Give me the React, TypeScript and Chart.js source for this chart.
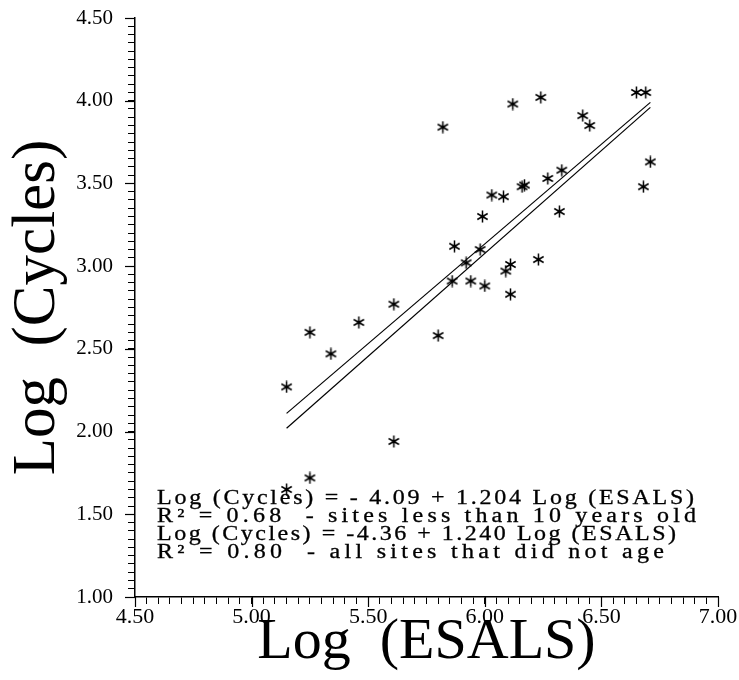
import React, { useEffect, useRef } from "react";
import { Chart, registerables } from "chart.js";

Chart.register(...registerables);

// Log(ESALS) values of the sites
const esals = [
  5.15, 5.25, 5.34, 5.46, 5.61, 5.80, 5.61, 5.25, 5.15, 5.82,
  6.12, 6.24, 6.65, 6.69, 6.42, 6.45, 6.71, 6.68, 6.33, 6.27,
  6.16, 6.17, 6.03, 6.08, 5.99, 6.32, 5.87, 5.98, 5.92, 5.86,
  5.94, 6.00, 6.11, 6.09, 6.23, 6.11,
];
// Log(Cycles) values of the sites
const cycles = [
  2.27, 2.60, 2.47, 2.66, 2.77, 2.58, 1.94, 1.72, 1.65, 3.84,
  3.98, 4.02, 4.05, 4.05, 3.91, 3.85, 3.63, 3.48, 3.58, 3.53,
  3.48, 3.49, 3.43, 3.42, 3.30, 3.33, 3.12, 3.10, 3.02, 2.91,
  2.91, 2.88, 3.01, 2.97, 3.04, 2.83,
];

// regression line end points
const fitX = [5.15, 6.71];
const fit1Y = [2.11, 3.99]; // sites less than 10 years old
const fit2Y = [2.02, 3.96]; // all sites that did not age

const xTickLabels = ["4.50", "5.00", "5.50", "6.00", "6.50", "7.00"];
const yTickLabels = ["1.00", "1.50", "2.00", "2.50", "3.00", "3.50", "4.00", "4.50"];

const xTitle = "Log  (ESALS)";
const yTitle = "Log  (Cycles)";

const annotationLines = [
  "Log (Cycles) = - 4.09 + 1.204 Log (ESALS)",
  "R² = 0.68  - sites less than 10 years old",
  "Log (Cycles) = -4.36 + 1.240 Log (ESALS)",
  "R² = 0.80  - all sites that did not age",
];
// rendered width of each annotation line, pixels
const annotationWidths = [537, 539, 519, 507];

function makeStar(size: number, lw: number): HTMLCanvasElement {
  const c = document.createElement("canvas");
  c.width = size;
  c.height = size;
  const g = c.getContext("2d")!;
  g.strokeStyle = "#000";
  g.fillStyle = "#000";
  g.lineWidth = lw;
  const cx = size / 2;
  const cy = size / 2;
  const r = size / 2 - 0.5;
  for (const a of [90, 30, 150]) {
    const rad = (a * Math.PI) / 180;
    g.beginPath();
    g.moveTo(cx - r * Math.cos(rad), cy - r * Math.sin(rad));
    g.lineTo(cx + r * Math.cos(rad), cy + r * Math.sin(rad));
    g.stroke();
  }
  g.beginPath();
  g.arc(cx, cy, 1.9, 0, Math.PI * 2);
  g.fill();
  return c;
}

function labelFor(list: string[], v: number): string {
  for (const l of list) {
    if (Math.abs(parseFloat(l) - v) < 1e-6) return l;
  }
  return "";
}

const overlayPlugin = {
  id: "overlay",
  afterDraw(chart: any) {
    const ctx = chart.ctx as CanvasRenderingContext2D;
    const xs = chart.scales.x;
    const ys = chart.scales.y;
    const area = chart.chartArea;
    ctx.save();
    ctx.strokeStyle = "#000";
    ctx.lineWidth = 1.2;
    // longer major ticks
    for (const l of xTickLabels) {
      const px = Math.round(xs.getPixelForValue(parseFloat(l))) + 0.5;
      ctx.beginPath();
      ctx.moveTo(px, area.bottom);
      ctx.lineTo(px, area.bottom + 10);
      ctx.stroke();
    }
    for (const l of yTickLabels) {
      const py = Math.round(ys.getPixelForValue(parseFloat(l))) + 0.5;
      ctx.beginPath();
      ctx.moveTo(area.left - 10, py);
      ctx.lineTo(area.left, py);
      ctx.stroke();
    }
    // annotation block
    ctx.fillStyle = "#000";
    ctx.strokeStyle = "#000";
    ctx.lineWidth = 0.3;
    ctx.font = '20px "Liberation Serif"';
    ctx.textBaseline = "alphabetic";
    ctx.textAlign = "left";
    const stretch = 1.2;
    const startX = 157;
    annotationLines.forEach((line, i) => {
      const chars = Array.from(line);
      let natural = 0;
      for (const ch of chars) natural += ctx.measureText(ch).width * stretch;
      const ls = (annotationWidths[i] - natural) / (chars.length - 1);
      let x = startX;
      const y = 504 + i * 18;
      for (const ch of chars) {
        ctx.save();
        ctx.translate(x, y);
        ctx.scale(stretch, 1);
        ctx.fillText(ch, 0, 0);
        ctx.strokeText(ch, 0, 0);
        ctx.restore();
        x += ctx.measureText(ch).width * stretch + ls;
      }
    });
    ctx.restore();
  },
};

export default function App() {
  const ref = useRef<HTMLCanvasElement | null>(null);
  useEffect(() => {
    if (!ref.current) return;
    const star = makeStar(13, 1.5);
    const points = esals.map((x, i) => ({ x, y: cycles[i] }));
    const chart = new Chart(ref.current, {
      type: "scatter",
      data: {
        datasets: [
          {
            label: "sites",
            data: points,
            pointStyle: star as any,
            pointRadius: 6,
            showLine: false,
          },
          {
            label: "fit1",
            data: fitX.map((x, i) => ({ x, y: fit1Y[i] })),
            showLine: true,
            borderColor: "#000",
            borderWidth: 1.2,
            pointRadius: 0,
          },
          {
            label: "fit2",
            data: fitX.map((x, i) => ({ x, y: fit2Y[i] })),
            showLine: true,
            borderColor: "#000",
            borderWidth: 1.2,
            pointRadius: 0,
          },
        ],
      },
      options: {
        animation: false,
        responsive: false,
        devicePixelRatio: 1,
        layout: { padding: { left: 0, top: 18, right: 21, bottom: 0 } },
        plugins: { legend: { display: false }, tooltip: { enabled: false } },
        scales: {
          x: {
            type: "linear",
            min: 4.5,
            max: 7,
            afterFit: (s: any) => {
              s.height = 83;
              s.paddingLeft = 0;
              s.paddingRight = 0;
            },
            border: { display: true, color: "#000", width: 1.5 },
            grid: {
              display: true,
              drawOnChartArea: false,
              drawTicks: true,
              tickLength: 7,
              color: "#000",
              lineWidth: 1,
            },
            ticks: {
              stepSize: 0.05,
              autoSkip: false,
              maxRotation: 0,
              minRotation: 0,
              padding: 0,
              color: "#000",
              font: { family: '"Liberation Serif"', size: 22 },
              callback: (v: any) => labelFor(xTickLabels, Number(v)),
            },
            title: {
              display: true,
              text: xTitle,
              color: "#000",
              font: { family: '"Liberation Serif"', size: 58 },
              padding: { top: 0, bottom: 2 },
            },
          },
          y: {
            type: "linear",
            min: 1,
            max: 4.5,
            afterFit: (s: any) => {
              s.width = 135;
              s.paddingTop = 0;
              s.paddingBottom = 0;
            },
            border: { display: true, color: "#000", width: 1.5 },
            grid: {
              display: true,
              drawOnChartArea: false,
              drawTicks: true,
              tickLength: 7,
              color: "#000",
              lineWidth: 1,
            },
            ticks: {
              stepSize: 0.05,
              autoSkip: false,
              padding: 15,
              color: "#000",
              font: { family: '"Liberation Serif"', size: 21 },
              callback: (v: any) => labelFor(yTickLabels, Number(v)),
            },
            title: {
              display: true,
              text: yTitle,
              color: "#000",
              font: { family: '"Liberation Serif"', size: 61 },
              padding: { top: 1, bottom: 0 },
            },
          },
        },
      },
      plugins: [overlayPlugin],
    });
    return () => chart.destroy();
  }, []);
  return (
    <div style={{ position: "absolute", left: 0, top: 0, width: 739, height: 680, background: "#fff" }}>
      <canvas ref={ref} width={739} height={680} style={{ display: "block" }} />
    </div>
  );
}
